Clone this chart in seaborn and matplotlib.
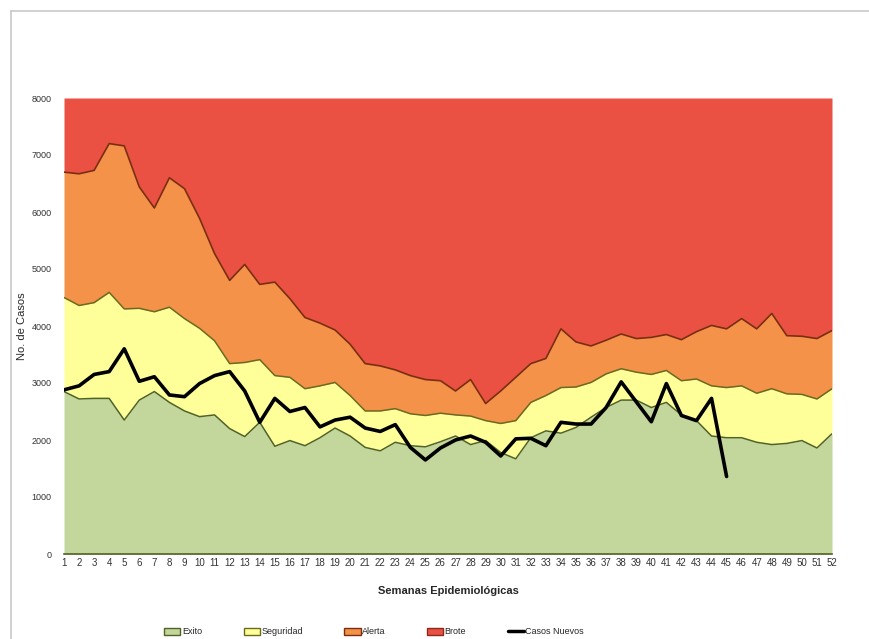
import numpy as np
import pandas as pd
import matplotlib
matplotlib.use("Agg")
import matplotlib.pyplot as plt
import seaborn as sns
from matplotlib.patches import Patch
from matplotlib.lines import Line2D

# Epidemic channel thresholds (cumulative upper limits) per epidemiological week
semanas = list(range(1, 53))
exito = [2850, 2720, 2730, 2730, 2350, 2700, 2850, 2660, 2510, 2410,
         2440, 2200, 2060, 2310, 1890, 1990, 1900, 2040, 2210, 2070,
         1870, 1810, 1960, 1900, 1880, 1970, 2070, 1920, 1990, 1780,
         1670, 2040, 2160, 2120, 2220, 2400, 2570, 2700, 2700, 2570,
         2660, 2440, 2340, 2070, 2040, 2040, 1960, 1920, 1940, 1990,
         1860, 2110]
seguridad = [4500, 4360, 4410, 4590, 4300, 4310, 4250, 4330, 4130, 3960,
             3740, 3340, 3360, 3410, 3130, 3100, 2900, 2950, 3010, 2780,
             2510, 2510, 2550, 2460, 2430, 2470, 2440, 2420, 2340, 2290,
             2340, 2660, 2780, 2920, 2930, 3010, 3160, 3250, 3190, 3150,
             3220, 3040, 3070, 2950, 2920, 2950, 2820, 2900, 2810, 2800,
             2720, 2900]
alerta = [6700, 6670, 6730, 7200, 7160, 6440, 6070, 6600, 6410, 5890,
          5270, 4800, 5080, 4730, 4770, 4480, 4150, 4050, 3930, 3680,
          3340, 3300, 3230, 3130, 3060, 3040, 2860, 3060, 2640, 2860,
          3100, 3340, 3430, 3950, 3720, 3650, 3750, 3860, 3780, 3800,
          3850, 3760, 3900, 4010, 3950, 4130, 3950, 4220, 3830, 3820,
          3780, 3920]
brote = [8000] * 52
casos_semanas = list(range(1, 46))
casos_nuevos = [2880, 2950, 3150, 3200, 3600, 3030, 3110, 2790, 2760, 2990,
                3130, 3200, 2860, 2310, 2730, 2500, 2570, 2230, 2350, 2400,
                2210, 2150, 2270, 1870, 1650, 1860, 2000, 2070, 1960, 1720,
                2020, 2030, 1900, 2310, 2280, 2280, 2570, 3020, 2670, 2320,
                2990, 2430, 2340, 2730, 1360]

df = pd.DataFrame({"semana": semanas, "exito": exito, "seguridad": seguridad,
                   "alerta": alerta, "brote": brote})
casos = pd.DataFrame({"semana": casos_semanas, "casos": casos_nuevos})

c_exito, e_exito = "#c3d69b", "#4f6228"
c_seg, e_seg = "#ffff99", "#6b6b1f"
c_alerta, e_alerta = "#f39248", "#7a2e10"
c_brote, e_brote = "#ea5142", "#8a2a1a"

sns.set_style("white")
plt.rcParams["font.family"] = ["Liberation Sans", "DejaVu Sans"]

fig = plt.figure(figsize=(8.69, 6.39), dpi=100)
ax = fig.add_axes([64 / 869, 1 - 554 / 639, (832 - 64) / 869, (554 - 98) / 639])

x = df["semana"]
ax.fill_between(x, 0, df["exito"], color=c_exito, lw=0)
ax.fill_between(x, df["exito"], df["seguridad"], color=c_seg, lw=0)
ax.fill_between(x, df["seguridad"], df["alerta"], color=c_alerta, lw=0)
ax.fill_between(x, df["alerta"], df["brote"], color=c_brote, lw=0)
ax.plot(x, df["exito"], color=e_exito, lw=1.1)
ax.plot(x, df["seguridad"], color=e_seg, lw=1.1)
ax.plot(x, df["alerta"], color=e_alerta, lw=1.2)

sns.lineplot(data=casos, x="semana", y="casos", color="black", lw=2.6, ax=ax)

ax.set_xlim(1, 52)
ax.set_ylim(0, 8000)
ax.set_xticks(semanas)
ax.set_xticklabels([str(s) for s in semanas], fontsize=7, color="#333333")
ax.set_yticks(range(0, 8001, 1000))
ax.set_yticklabels([str(v) for v in range(0, 8001, 1000)], fontsize=6.5, color="#333333")
ax.tick_params(axis="x", length=0, pad=3)
ax.tick_params(axis="y", length=0, pad=9)
for side in ["top", "right"]:
    ax.spines[side].set_visible(False)
ax.spines["left"].set_visible(False)
ax.spines["bottom"].set_color(e_exito)
ax.spines["bottom"].set_linewidth(1.2)

ax.set_xlabel("Semanas Epidemiológicas", fontsize=8, fontweight="bold", labelpad=13)
ax.set_ylabel("No. de Casos", fontsize=8, labelpad=3)

handles = [
    Patch(facecolor=c_exito, edgecolor=e_exito, label="Exito"),
    Patch(facecolor=c_seg, edgecolor=e_seg, label="Seguridad"),
    Patch(facecolor=c_alerta, edgecolor=e_alerta, label="Alerta"),
    Patch(facecolor=c_brote, edgecolor=e_brote, label="Brote"),
    Line2D([0], [0], color="black", lw=2.5, label="Casos Nuevos"),
]
fig.legend(handles=handles, loc="center", bbox_to_anchor=(374 / 869, 1 - 632 / 639),
           ncol=5, frameon=False, fontsize=6.5, columnspacing=4.6,
           handlelength=1.8, handleheight=0.7, handletextpad=0.15)

# outer chart border
fig.add_artist(Line2D([11 / 869, 11 / 869], [0, 1 - 11 / 639], color="#c8c8c8", lw=1.2))
fig.add_artist(Line2D([11 / 869, 1], [1 - 11 / 639, 1 - 11 / 639], color="#c8c8c8", lw=1.2))

fig.savefig("out.png", dpi=100)
